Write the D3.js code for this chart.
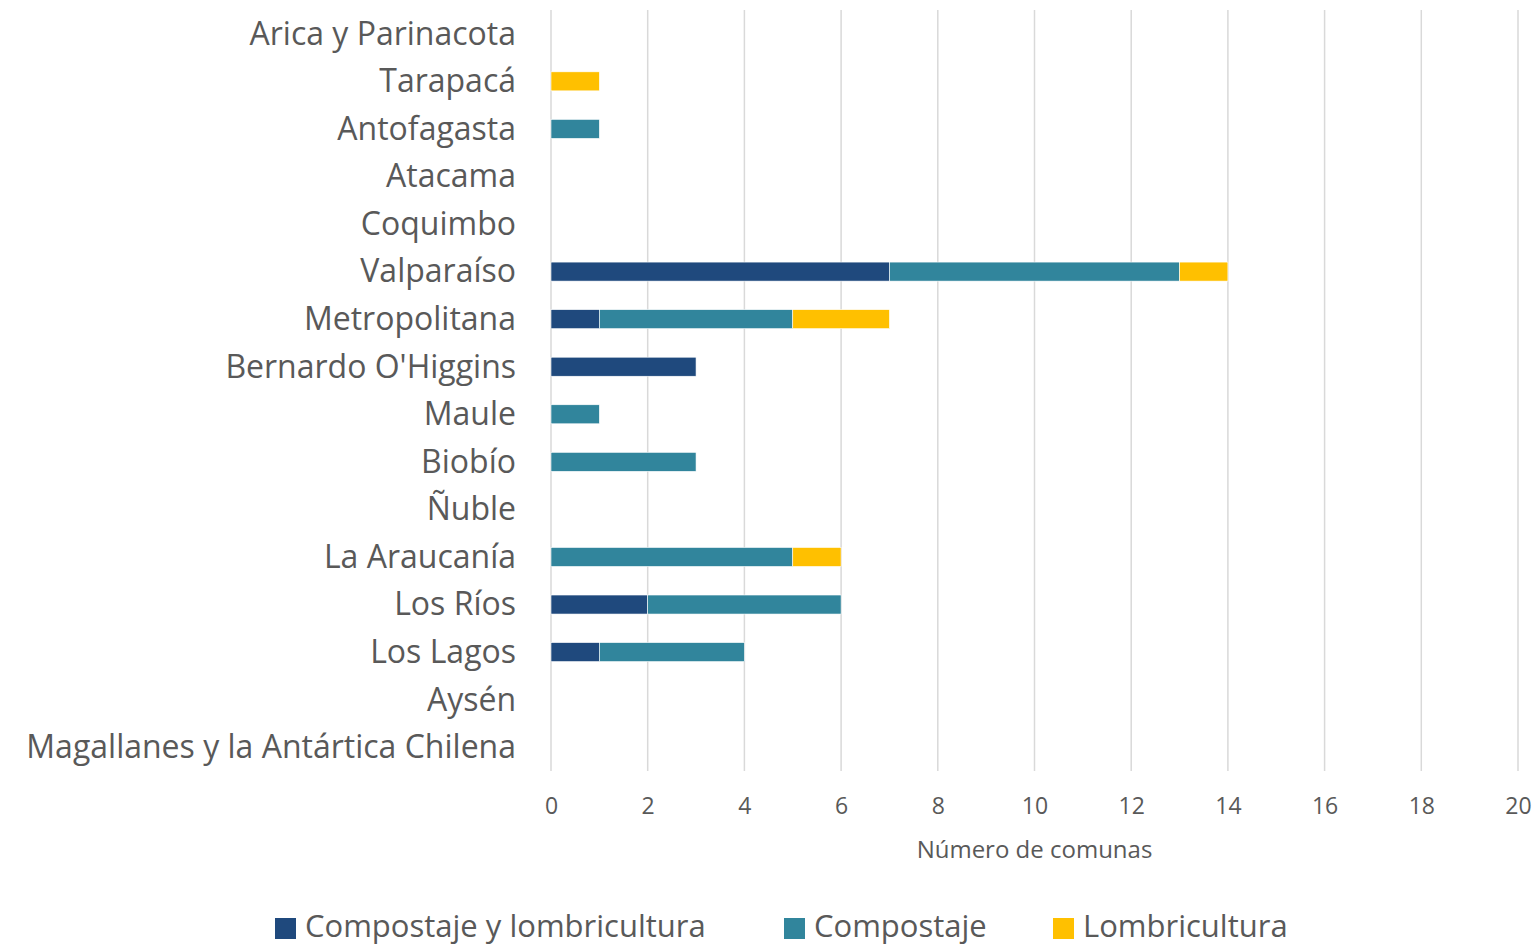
<!DOCTYPE html>
<html>
<head>
<meta charset="utf-8">
<script src="https://cdn.jsdelivr.net/npm/d3@7"></script>
<style>
  body { margin: 0; background: #fff; }
  text { font-family: "Open Sans", "Noto Sans", sans-serif; fill: #595959; }
</style>
</head>
<body>
<div id="chart"></div>
<script>
// regions, top to bottom
var regions = ["Arica y Parinacota", "Tarapacá", "Antofagasta", "Atacama", "Coquimbo",
  "Valparaíso", "Metropolitana", "Bernardo O'Higgins", "Maule", "Biobío", "Ñuble",
  "La Araucanía", "Los Ríos", "Los Lagos", "Aysén", "Magallanes y la Antártica Chilena"];

var seriesNames = ["Compostaje y lombricultura", "Compostaje", "Lombricultura"];
var ambos      = [0, 0, 0, 0, 0, 7, 1, 3, 0, 0, 0, 0, 2, 1, 0, 0];
var compostaje = [0, 0, 1, 0, 0, 6, 4, 0, 1, 3, 0, 5, 4, 3, 0, 0];
var lombri     = [0, 1, 0, 0, 0, 1, 2, 0, 0, 0, 0, 1, 0, 0, 0, 0];
var xTicks = [0, 2, 4, 6, 8, 10, 12, 14, 16, 18, 20];
var colors = ["#1F497D", "#31859C", "#FFC000"];

const width = 1534, height = 947;
const margin = {top: 10, right: 16, bottom: 176, left: 551};
const innerW = width - margin.left - margin.right,
      innerH = height - margin.top - margin.bottom;

const svg = d3.select("#chart").append("svg")
  .attr("width", width).attr("height", height);
const g = svg.append("g")
  .attr("transform", `translate(${margin.left},${margin.top})`);

// build table for stacking
var rows = regions.map(function(r, i) {
  return {region: r, s0: ambos[i], s1: compostaje[i], s2: lombri[i]};
});
const stack = d3.stack().keys(["s0", "s1", "s2"])(rows);

const x = d3.scaleLinear().domain([0, 20]).range([0, innerW]);
const y = d3.scaleBand().domain(regions).range([0, innerH]).paddingInner(0.6).paddingOuter(0.3);

// gridlines
g.append("g").selectAll("line")
  .data(xTicks)
  .join("line")
    .attr("x1", d => x(d)).attr("x2", d => x(d))
    .attr("y1", 0).attr("y2", innerH)
    .attr("stroke", "#d9d9d9").attr("stroke-width", 1.5);

// bars
g.append("g").selectAll("g")
  .data(stack)
  .join("g")
    .attr("fill", (d, i) => colors[i])
  .selectAll("rect")
  .data(d => d.filter(p => p[1] > p[0]))
  .join("rect")
    .attr("x", d => x(d[0]))
    .attr("y", d => y(d.data.region))
    .attr("width", d => x(d[1]) - x(d[0]))
    .attr("height", y.bandwidth())
    .attr("stroke", "#fff").attr("stroke-width", 0.6);

// y axis labels
const yAxis = g.append("g")
  .call(d3.axisLeft(y).tickSize(0).tickPadding(35));
yAxis.select(".domain").remove();
yAxis.selectAll("text")
  .style("font-size", "32px").attr("dy", "0.34em").attr("fill", "#595959");

// x axis
const xAxis = g.append("g")
  .attr("transform", `translate(0,${innerH})`)
  .call(d3.axisBottom(x).tickValues(xTicks).tickSize(0).tickPadding(27));
xAxis.select(".domain").remove();
xAxis.selectAll("text")
  .style("font-size", "23px").attr("fill", "#595959");

// x axis title
svg.append("text")
  .attr("x", margin.left + innerW / 2)
  .attr("y", 858)
  .attr("text-anchor", "middle")
  .style("font-size", "24px")
  .text("Número de comunas");

// legend
var legendX = [275, 784, 1053];
const legend = svg.append("g");
seriesNames.forEach(function(name, i) {
  legend.append("rect")
    .attr("x", legendX[i]).attr("y", 918)
    .attr("width", 21).attr("height", 21)
    .attr("fill", colors[i]);
  legend.append("text")
    .attr("x", legendX[i] + 30).attr("y", 937)
    .style("font-size", "31px")
    .text(name);
});
</script>
</body>
</html>
